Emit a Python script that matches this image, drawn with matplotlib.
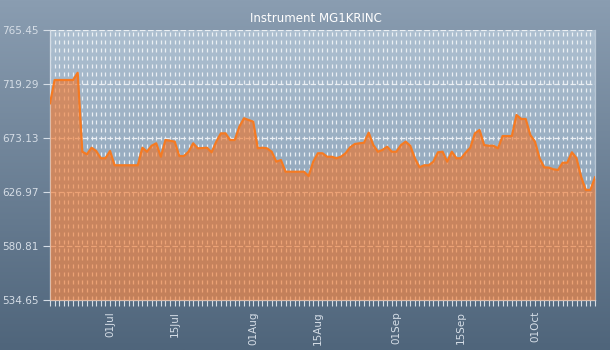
import matplotlib
matplotlib.use('Agg')
import matplotlib.pyplot as plt
import matplotlib.dates as mdates
from matplotlib.colors import LinearSegmentedColormap
import numpy as np
import pandas as pd

title = "Instrument MG1KRINC"
start_date = "2013-06-18"
values = [
    702.8, 722.7, 722.7, 722.7, 722.7, 722.7, 728.9, 661.4, 659.2, 664.8,
    662.0, 655.8, 655.8, 662.0, 649.8, 649.8, 649.8, 649.8, 649.8, 649.8,
    664.8, 661.4, 666.5, 668.6, 657.1, 671.4, 670.8, 670.0, 657.7, 657.7,
    661.4, 668.6, 664.3, 664.5, 664.8, 660.9, 670.0, 677.1, 677.1, 671.4,
    671.4, 682.8, 690.0, 688.5, 687.1, 664.3, 664.8, 664.3, 661.4, 652.9,
    654.3, 644.3, 644.3, 644.3, 644.3, 644.3, 640.6, 652.9, 660.1, 660.1,
    657.1, 657.1, 655.8, 657.1, 660.1, 665.2, 668.0, 668.6, 669.1, 677.7,
    667.1, 661.4, 662.9, 665.7, 661.4, 661.4, 667.1, 670.0, 666.5, 655.8,
    648.1, 649.8, 649.8, 652.9, 660.9, 661.4, 652.9, 661.4, 655.8, 655.8,
    660.6, 664.8, 677.1, 680.0, 667.1, 666.5, 666.5, 664.3, 674.8, 674.8,
    674.8, 692.8, 689.4, 689.4, 675.7, 670.0, 655.8, 648.1, 647.8, 646.4,
    645.8, 652.0, 652.0, 660.9, 655.8, 640.0, 628.7, 628.7, 639.5,
]
y_ticks = [534.65, 580.81, 626.97, 673.13, 719.29, 765.45]

dates = pd.date_range(start_date, periods=len(values), freq='D')

W, H = 610, 350
fig = plt.figure(figsize=(W / 100, H / 100), dpi=100)

# figure background gradient
bg = fig.add_axes([0, 0, 1, 1], zorder=-10)
bg_cmap = LinearSegmentedColormap.from_list('bg', ['#4f657b', '#8a9db1'])
bg.imshow(np.linspace(0, 1, 256).reshape(-1, 1), aspect='auto', cmap=bg_cmap,
          extent=[0, 1, 0, 1], origin='lower')
bg.set_axis_off()

ax = fig.add_axes([50 / W, 1 - 300 / H, 545 / W, 270 / H])
ax.patch.set_alpha(0)
pa_cmap = LinearSegmentedColormap.from_list('pa', ['#8199b0', '#adbfd0'])
ax.imshow(np.linspace(0, 1, 256).reshape(-1, 1), aspect='auto', cmap=pa_cmap,
          extent=[0, 1, 0, 1], origin='lower', transform=ax.transAxes, zorder=0)

ax.fill_between(dates, values, y_ticks[0], color='#f07022', alpha=0.6,
                linewidth=0, zorder=3)
ax.plot(dates, values, color='#f57a22', linewidth=1.6, zorder=4)

ax.set_xlim(dates[0], dates[-1])
ax.set_ylim(y_ticks[0], y_ticks[-1])
ax.set_yticks(y_ticks)
ax.set_yticklabels([f"{v:.2f}" for v in y_ticks])

ax.xaxis.set_major_locator(mdates.DayLocator(bymonthday=[1, 15]))
ax.xaxis.set_major_formatter(mdates.DateFormatter('%d%b'))
ax.xaxis.set_minor_locator(mdates.DayLocator())

grid_kw = dict(color='#eef2f6', linewidth=0.9, alpha=0.95)
ax.grid(which='both', axis='x', linestyle=(0, (3.2, 3.2)), zorder=2, **grid_kw)
ax.grid(which='major', axis='y', linestyle=(0, (4.5, 2.0)), zorder=2, **grid_kw)
ax.set_axisbelow(True)

lab_col = '#d5dde6'
ax.tick_params(axis='x', which='both', direction='out', length=4, width=0.8,
               color=lab_col, labelcolor=lab_col, labelsize=7.5, pad=4,
               labelrotation=90)
ax.tick_params(axis='y', which='major', direction='out', length=5, width=0.8,
               color=lab_col, labelcolor=lab_col, labelsize=7.5, pad=3)

ax.spines['top'].set_visible(False)
ax.spines['left'].set_color('#d5dde6')
ax.spines['bottom'].set_color('#d5dde6')
ax.spines['right'].set_color('#b8c6d4')
for s in ax.spines.values():
    s.set_linewidth(0.9)

fig.text(316 / W, 1 - 18 / H, title, ha='center', va='center', color='white',
         fontsize=8.5)

fig.savefig('out.png', dpi=100)
